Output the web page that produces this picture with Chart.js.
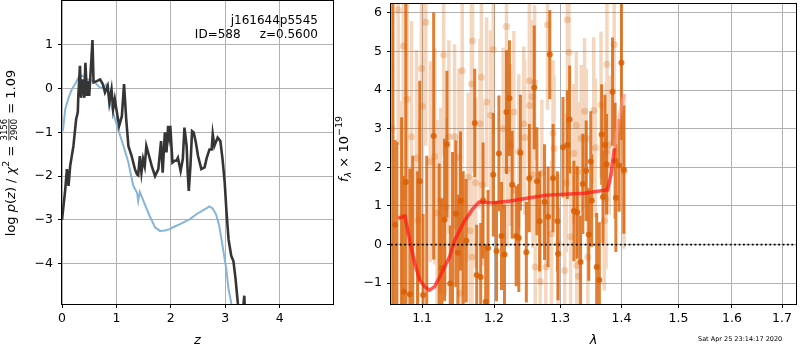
<!DOCTYPE html>
<html lang="en">
<head>
  <meta charset="UTF-8">
  <title>j161644p5545 - p(z) and spectrum</title>
  <script src="https://cdn.jsdelivr.net/npm/chart.js"></script>
  <style>
    body { margin: 0; background: #fff; }
    #wrap { position: relative; width: 800px; height: 350px; overflow: hidden; font-family: "DejaVu Sans", sans-serif; }
    #pz { position: absolute; left: 0; top: 0; }
    #spec { position: absolute; left: 335px; top: 0; }
    #stamp { position: absolute; left: 698px; top: 335px; font-size: 6.5px; color: #000; white-space: nowrap; }
  </style>
</head>
<body>
  <div id="wrap">
    <canvas id="pz" width="340" height="350"></canvas>
    <canvas id="spec" width="465" height="350"></canvas>
    <div id="stamp">Sat Apr 25 23:14:17 2020</div>
  </div>

  <script>
    // ---- left panel: log p(z) ----
    const zRange = [0, 4.98];
    const pzRange = [-4.92, 2.0];
    const zTicks = [0, 1, 2, 3, 4];
    const pzTicks = [-4, -3, -2, -1, 0, 1];

    // full fit (dark line)
    const zFull = [0.0, 0.06, 0.09, 0.12, 0.15, 0.21, 0.26, 0.29, 0.30, 0.33, 0.35, 0.38, 0.41, 0.43, 0.46, 0.48, 0.50, 0.54, 0.56, 0.58,
      0.64, 0.70, 0.75, 0.79, 0.84, 0.87, 0.91, 0.94, 0.97, 1.02, 1.05, 1.10, 1.14, 1.18, 1.22, 1.28, 1.34, 1.38, 1.40, 1.43,
      1.46, 1.49, 1.52, 1.55, 1.60, 1.65, 1.71, 1.77, 1.82, 1.85, 1.89, 1.92, 1.95, 1.97, 1.99, 2.03, 2.07, 2.10, 2.13, 2.18,
      2.22, 2.25, 2.29, 2.31, 2.33, 2.36, 2.39, 2.42, 2.46, 2.50, 2.56, 2.62, 2.66, 2.71, 2.75, 2.77, 2.80, 2.86, 2.91, 2.95,
      2.99, 3.02, 3.06, 3.11, 3.15, 3.19, 3.23, 3.28, 3.33, 3.35, 3.37, 3.45];
    const logpFull = [-3.0, -2.30, -1.84, -2.22, -1.77, -1.31, -0.70, -0.54, -0.17, 0.52, -0.21, 0.21, -0.21, 0.59, -0.17, 0.17, -0.17, 0.67, 1.11, 0.14,
      0.17, 0.21, 0.10, -0.09, 0.06, -0.32, -0.02, -0.47, -0.24, -0.63, -0.85, -0.63, 0.10, -0.70, -1.31, -1.54, -1.84, -1.96, -1.98, -1.54,
      -1.92, -1.61, -1.77, -1.31, -1.54, -1.77, -2.0, -1.84, -1.20, -1.92, -1.0, -1.46, -0.85, -1.08, -0.85, -1.69, -1.65, -1.65, -1.58, -1.88,
      -1.61, -0.89, -1.31, -1.92, -2.34, -1.77, -0.97, -1.0, -1.23, -1.54, -1.84, -1.80, -1.58, -1.39, -1.39, -1.04, -1.31, -1.12, -1.20, -1.61,
      -2.15, -2.76, -3.44, -3.82, -3.94, -4.35, -4.89, -5.3, -5.0, -4.73, -5.4, -6.5];

    // template-only fit (light blue line)
    const zTempl = [0.0, 0.02, 0.06, 0.12, 0.18, 0.24, 0.30, 0.37, 0.46, 0.58, 0.70, 0.76, 0.82, 0.87, 0.94, 1.03, 1.13, 1.22, 1.31, 1.38,
      1.40, 1.43, 1.52, 1.61, 1.71, 1.80, 1.89, 1.98, 2.07, 2.16, 2.35, 2.47, 2.59, 2.71, 2.77, 2.83, 2.89, 2.95, 3.02, 3.06,
      3.11, 3.16];
    const logpTempl = [-1.0, -0.93, -0.47, -0.21, -0.02, 0.10, 0.25, 0.30, 0.21, 0.17, 0.02, 0.02, 0.10, -0.24, -0.55, -0.93, -1.31, -1.69, -2.22, -2.38,
      -2.57, -2.36, -2.64, -2.91, -3.17, -3.25, -3.24, -3.21, -3.15, -3.10, -2.98, -2.87, -2.78, -2.69, -2.74, -2.87, -3.14, -3.59, -4.13, -4.58,
      -4.89, -5.5];

    // ---- right panel: spectrum ----
    const lamRange = [1.0594, 1.729];
    const fluxRange = [-1.54, 6.23];
    const lamTicks = [1.1, 1.2, 1.3, 1.4, 1.5, 1.6, 1.7];
    const fluxTicks = [-1, 0, 1, 2, 3, 4, 5, 6];

    // faint (contaminated) points
    const lamLight = [1.0607, 1.0687, 1.0731, 1.0752, 1.0803, 1.0860, 1.0926, 1.0943, 1.0991, 1.1005,
      1.1049, 1.1111, 1.1169, 1.1200, 1.1249, 1.1290, 1.1317, 1.1362, 1.1441, 1.1500,
      1.1523, 1.1541, 1.1547, 1.1631, 1.1659, 1.1677, 1.1685, 1.1691, 1.1737, 1.1799,
      1.1818, 1.1832, 1.1893, 1.1950, 1.1989, 1.2134, 1.2182, 1.2192, 1.2241, 1.2291,
      1.2365, 1.2439, 1.2454, 1.2523, 1.2530, 1.2564, 1.2579, 1.2604, 1.2613, 1.2689,
      1.2715, 1.2776, 1.2802, 1.2864, 1.2888, 1.2904, 1.2966, 1.3071, 1.3097, 1.3113,
      1.3138, 1.3165, 1.3217, 1.3255, 1.3262, 1.3281, 1.3290, 1.3335, 1.3388, 1.3415,
      1.3441, 1.3538, 1.3565, 1.3658, 1.3712, 1.3740, 1.3745, 1.3756, 1.3794, 1.3877,
      1.4044];
    const fluxLight = [3.0, 6.08, 0.72, 5.14, 3.76, 2.79, 2.24, 0.63, 4.56, 3.58,
      5.76, 2.15, 2.28, 0.82, 1.14, 4.91, 0.98, 2.79, 2.79, 2.26,
      -1.26, 1.13, 4.50, 1.74, 0.36, 4.16, -0.32, 5.27, 1.60, 3.13,
      4.33, 1.55, 3.69, 3.35, 5.05, 3.00, 5.65, 1.94, 2.58, 3.43,
      2.41, 3.13, 2.77, 4.24, 3.60, 3.82, 1.81, 4.20, -0.58, -0.96,
      1.85, -0.58, 5.69, 0.27, 2.88, 2.49, 0.02, -0.67, 1.60, 5.82,
      4.98, 0.20, 2.36, 3.09, -0.54, 1.89, -0.82, 2.75, 3.45, 2.75,
      -0.32, 3.47, 2.51, 3.62, 0.61, 1.17, 2.41, 4.67, 2.58, 5.18,
      1.89];
    const errLight = [8.0, 3.5, 3.0, 4.0, 3.5, 3.0, 2.8, 2.6, 3.0, 2.8,
      3.2, 2.6, 2.8, 2.4, 2.4, 2.6, 2.3, 2.5, 2.4, 2.3,
      2.2, 2.3, 2.4, 2.2, 2.2, 2.3, 2.1, 2.3, 2.2, 2.2,
      2.2, 2.1, 2.2, 2.2, 2.2, 2.1, 2.3, 2.0, 2.1, 2.1,
      2.0, 2.0, 2.0, 2.1, 2.0, 2.0, 1.9, 2.0, 1.9, 1.9,
      1.9, 1.9, 2.2, 1.9, 1.9, 1.9, 1.8, 1.9, 1.8, 2.1,
      2.0, 1.8, 1.8, 1.9, 1.8, 1.8, 1.8, 1.9, 1.9, 1.8,
      1.8, 1.9, 1.8, 1.9, 1.8, 1.8, 1.8, 2.0, 1.8, 2.2,
      2.0];

    // clean points
    const lamDark = [1.0619, 1.0645, 1.0670, 1.0731, 1.0761, 1.0786, 1.0838, 1.0877, 1.0940, 1.0969, 1.1013,
      1.1062, 1.1155, 1.1230, 1.1267, 1.1303, 1.1335, 1.1381, 1.1412, 1.1458, 1.1486, 1.1523, 1.1560, 1.1603,
      1.1723, 1.1751, 1.1808, 1.1842, 1.1879, 1.1913, 1.1989, 1.2036, 1.2071, 1.2109,
      1.2153, 1.2182, 1.2226, 1.2266, 1.2325, 1.2365, 1.2389, 1.2478, 1.2523, 1.2598,
      1.2639, 1.2680, 1.2756, 1.2811, 1.2837, 1.2888, 1.2957, 1.2966, 1.3044, 1.3113,
      1.3149, 1.3217, 1.3271, 1.3324, 1.3361, 1.3415, 1.3457, 1.3489, 1.3505, 1.3586,
      1.3630, 1.3668, 1.3690, 1.3723, 1.3750, 1.3849, 1.3893, 1.3905, 1.3960, 1.3999, 1.4039];
    const fluxDark = [7.0, 0.51, -2.0, -2.5, -1.22, 1.62, -1.29, -2.3, -2.0, 1.64, -1.31,
      -2.2, 2.81, -2.2, -0.61, 0.64, 2.60, -1.01, -2.5, 0.80, -0.21, 1.13, -2.3, 0.10,
      3.15, -0.79, -0.84, 1.14, -1.48, -0.09, 1.81, -0.17, 2.36, 0.22,
      -0.26, 3.43, 3.79, 1.55, 0.22, 0.17, 2.38, -0.20, 1.72, 4.07,
      1.64, 0.60, 1.10, 0.72, 4.92, 1.72, 0.60, -0.24, 2.52, 2.58,
      3.24, 0.87, 0.83, -0.45, 1.57, 1.91, 0.26, 2.15, 1.14, -0.58,
      -0.92, 2.85, 1.23, 2.58, 2.08, 3.96, 2.17, 1.21, 2.05, 4.71, 1.94];
    const errDark = [9.0, 2.2, 4.66, 5.8, 3.0, 5.0, 3.26, 4.6, 3.9, 2.6, 2.1,
      4.5, 3.2, 4.3, 1.8, 2.1, 1.9, 1.5, 4.9, 1.9, 1.5, 1.8, 4.2, 1.6,
      1.4, 1.3, 1.4, 1.5, 1.5, 1.5, 1.6, 1.3, 1.5, 1.4,
      1.3, 1.6, 1.5, 1.4, 1.3, 1.4, 1.5, 1.3, 1.4, 1.6,
      1.4, 1.3, 1.5, 1.3, 1.15, 1.4, 1.3, 1.2, 1.3, 1.4,
      1.4, 1.3, 1.2, 1.2, 1.3, 1.3, 1.2, 1.3, 1.2, 1.4,
      1.5, 1.3, 1.2, 1.3, 1.3, 1.4, 1.5, 1.4, 1.2, 2.0, 1.66];

    // best-fit model (red) and its faint tail
    const lamModel = [1.0687, 1.0773, 1.0838, 1.0903, 1.0969, 1.1035, 1.1101, 1.1168, 1.1236, 1.1303, 1.1372, 1.1441, 1.1509,
      1.1579, 1.1649, 1.1689, 1.1785, 1.2000, 1.2239, 1.2486, 1.2793, 1.3071, 1.3388, 1.3768, 1.3824, 1.3879];
    const fluxModel = [0.68, 0.74, 0.10, -0.49, -0.92, -1.09, -1.18, -1.09, -0.84, -0.58, -0.32, 0.10, 0.36,
      0.61, 0.80, 0.91, 1.10, 1.08, 1.13, 1.20, 1.28, 1.30, 1.33, 1.42, 1.81, 2.49];
    const lamTail = [1.3879, 1.3960, 1.4047];
    const fluxTail = [2.49, 3.3, 3.90];

    // ---- helpers ----
    const FAM = 'DejaVu Sans';
    Chart.defaults.font.family = FAM;
    Chart.defaults.color = '#000';

    const fmt = v => (v < 0 ? '\u2212' + Math.abs(v) : String(v));
    const xy = (xs, ys) => xs.map((x, i) => ({ x, y: ys[i] }));
    const errSegments = (xs, ys, es) => {
      const out = [];
      xs.forEach((x, i) => {
        out.push({ x, y: ys[i] - es[i] }, { x, y: ys[i] + es[i] }, { x, y: null });
      });
      return out;
    };

    const frame = {
      id: 'frame',
      afterDraw(chart) {
        const { ctx, chartArea: a } = chart;
        ctx.save();
        ctx.strokeStyle = '#000';
        ctx.lineWidth = 1;
        ctx.strokeRect(Math.round(a.left) - 0.5, Math.round(a.top) - 0.5,
          Math.round(a.right - a.left) + 1, Math.round(a.bottom - a.top) + 1);
        ctx.restore();
      }
    };

    // rotated label with mixed fonts, super/subscripts and a stacked fraction
    function drawRich(ctx, parts, cx, cy, base) {
      ctx.save();
      ctx.translate(cx, cy);
      ctx.rotate(-Math.PI / 2);
      ctx.fillStyle = '#000';
      ctx.textBaseline = 'alphabetic';
      let total = 0;
      const widths = parts.map(p => {
        ctx.font = p.font;
        const w = p.num
          ? Math.max(ctx.measureText(p.num).width, ctx.measureText(p.den).width) + 2
          : ctx.measureText(p.t).width;
        total += w;
        return w;
      });
      let x = -total / 2;
      parts.forEach((p, i) => {
        ctx.font = p.font;
        if (p.num) {
          const mid = x + widths[i] / 2;
          ctx.textAlign = 'center';
          ctx.fillText(p.num, mid, base - 7.2);
          ctx.fillText(p.den, mid, base + 2);
          ctx.fillRect(x + 1, base - 6, widths[i] - 2, 0.8);
        } else {
          ctx.textAlign = 'left';
          ctx.fillText(p.t, x, base + (p.dy || 0));
        }
        x += widths[i];
      });
      ctx.restore();
    }

    const F = `13px "${FAM}"`;
    const FI = `italic 13px "${FAM}"`;
    const FS = `9.5px "${FAM}"`;
    const FSI = `italic 9.5px "${FAM}"`;

    const pzLabel = {
      id: 'pzLabel',
      afterDraw(chart) {
        const ctx = chart.ctx;
        drawRich(ctx, [
          { t: 'log ', font: F }, { t: 'p', font: FI }, { t: '(', font: F }, { t: 'z', font: FI },
          { t: ') / ', font: F }, { t: '\u03c7', font: FI }, { t: '2', font: FS, dy: -5.5 },
          { t: ' = ', font: F }, { num: '3156', den: '2900', font: `8.5px "${FAM}"` },
          { t: ' = 1.09', font: F }
        ], 0, 153, 14.5);
        ctx.save();
        ctx.font = `12px "${FAM}"`;
        ctx.fillStyle = '#000';
        ctx.textAlign = 'right';
        ctx.textBaseline = 'alphabetic';
        ctx.fillText('j161644p5545', 318, 24);
        ctx.fillText('ID=588     z=0.5600', 318, 38);
        ctx.restore();
      }
    };

    const specLabel = {
      id: 'specLabel',
      afterDraw(chart) {
        drawRich(chart.ctx, [
          { t: 'f', font: FI }, { t: '\u03bb', font: FSI, dy: 3 },
          { t: ' \u00d7 10', font: F }, { t: '\u221219', font: FS, dy: -5.5 }
        ], 0, 149, 12.5);
      }
    };

    const tickFont = { family: FAM, size: 12.5 };
    const gridOpts = { color: '#b0b0b0', tickColor: '#000', tickLength: 4, lineWidth: 1 };

    function xAxis(extra, ticks, fmtFn, title) {
      return Object.assign({
        afterBuildTicks: s => { s.ticks = ticks.map(v => ({ value: v })); },
        afterFit: s => { s.height = 46; s.paddingLeft = 0; s.paddingRight = 0; },
        grid: gridOpts,
        border: { display: false },
        ticks: { color: '#000', font: tickFont, padding: 3, maxRotation: 0, autoSkip: false, callback: fmtFn },
        title: { display: true, text: title, color: '#000', font: { family: FAM, size: 13, style: 'italic' }, padding: { top: 0, bottom: 2 } }
      }, extra);
    }
    function yAxis(extra, ticks, width) {
      return Object.assign({
        type: 'linear',
        afterBuildTicks: s => { s.ticks = ticks.map(v => ({ value: v })); },
        afterFit: s => { s.width = width; s.paddingTop = 0; s.paddingBottom = 0; },
        grid: gridOpts,
        border: { display: false },
        ticks: { color: '#000', font: tickFont, padding: 5, autoSkip: false, callback: fmt }
      }, extra);
    }

    // ---- left chart ----
    new Chart(document.getElementById('pz'), {
      type: 'scatter',
      data: {
        datasets: [
          { data: xy(zFull, logpFull), showLine: true, borderColor: '#353535', borderWidth: 2.6, pointRadius: 0, clip: 0 },
          { data: xy(zTempl, logpTempl), showLine: true, borderColor: '#86b5da', borderWidth: 2, pointRadius: 0, clip: 0 }
        ]
      },
      options: {
        responsive: false,
        animation: false,
        layout: { padding: { top: 1, right: 7, bottom: 0, left: 0 } },
        plugins: { legend: { display: false }, tooltip: { enabled: false } },
        scales: {
          x: xAxis({ type: 'linear', min: zRange[0], max: zRange[1] }, zTicks, v => String(v), 'z'),
          y: yAxis({ min: pzRange[0], max: pzRange[1] }, pzTicks, 62)
        }
      },
      plugins: [frame, pzLabel]
    });

    // ---- right chart ----
    const orange = 'rgba(217,95,2,';
    new Chart(document.getElementById('spec'), {
      type: 'scatter',
      data: {
        datasets: [
          { data: xy(lamRange, [0, 0]), showLine: true, borderColor: '#000', borderWidth: 1.8, borderDash: [1.8, 2.6], pointRadius: 0, clip: 0 },
          { data: xy(lamModel, fluxModel), showLine: true, borderColor: 'rgba(255,20,20,0.7)', borderWidth: 3.5, pointRadius: 0, clip: 0 },
          { data: xy(lamTail, fluxTail), showLine: true, borderColor: 'rgba(255,150,150,0.55)', borderWidth: 3.5, pointRadius: 0, clip: 0 },
          { data: xy(lamDark, fluxDark), pointRadius: 3, pointBorderWidth: 0, backgroundColor: orange + '0.85)', clip: 0 },
          { data: errSegments(lamDark, fluxDark, errDark), showLine: true, spanGaps: false, borderColor: orange + '0.8)', borderWidth: 3, pointRadius: 0, clip: 0 },
          { data: xy(lamLight, fluxLight), pointRadius: 3.5, pointBorderWidth: 0, backgroundColor: orange + '0.25)', clip: 0 },
          { data: errSegments(lamLight, fluxLight, errLight), showLine: true, spanGaps: false, borderColor: orange + '0.25)', borderWidth: 3.5, pointRadius: 0, clip: 0 }
        ]
      },
      options: {
        responsive: false,
        animation: false,
        layout: { padding: { top: 1, right: 1, bottom: 0, left: 0 } },
        plugins: { legend: { display: false }, tooltip: { enabled: false } },
        scales: {
          x: xAxis({ type: 'logarithmic', bounds: 'data', min: lamRange[0], max: lamRange[1] }, lamTicks, v => Number(v).toFixed(1), '\u03bb'),
          y: yAxis({ min: fluxRange[0], max: fluxRange[1] }, fluxTicks, 56)
        }
      },
      plugins: [frame, specLabel]
    });
  </script>
</body>
</html>
